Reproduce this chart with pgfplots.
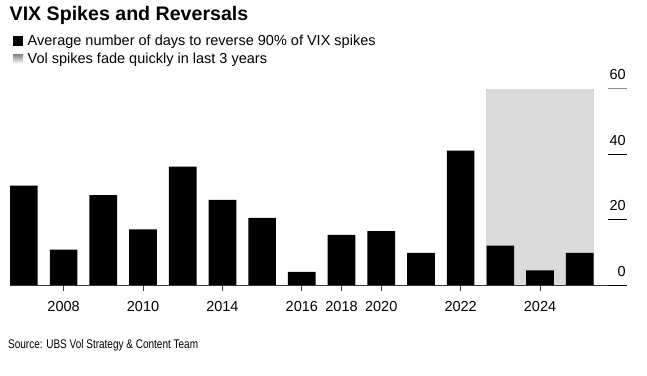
\documentclass[border=0pt]{standalone}
\usepackage{pgfplots}
\pgfplotsset{compat=1.18}
\usepackage{fontspec}
\setmainfont{Liberation Sans}
\definecolor{shade}{RGB}{218,218,218}
\definecolor{axisline}{RGB}{60,60,60}
\begin{document}
\begin{tikzpicture}[x=1pt,y=1pt]
\useasboundingbox (0,0) rectangle (647,-375);
% title and legend
\node[anchor=base west, inner sep=0pt, font=\bfseries\fontsize{19.6}{22}\selectfont] at (9.5,-20.5) {VIX Spikes and Reversals};
\fill[black] (13,-36) rectangle (23,-45.5);
\node[anchor=base west, inner sep=0pt, font=\fontsize{14.5}{16}\selectfont] at (27.5,-45.5) {Average number of days to reverse 90\% of VIX spikes};
\fill[shade] (13,-54) rectangle (23,-63.5);
\node[anchor=base west, inner sep=0pt, font=\fontsize{14.5}{16}\selectfont] at (27.5,-63.5) {Vol spikes fade quickly in last 3 years};
\node[anchor=base west, inner sep=0pt, font=\fontsize{12.5}{14}\selectfont] at (8,-348.3) {\scalebox{0.8}[1]{Source: UBS Vol Strategy \& Content Team}};
% main axis with bars
\begin{axis}[
  at={(10pt,-285pt)}, anchor=south west,
  scale only axis, width=617pt, height=196.3pt,
  xmin=-0.35, xmax=15.19, ymin=0, ymax=60,
  axis x line*=bottom, axis y line=none,
  x axis line style={draw=axisline, line width=0.9pt, -},
  xtick={1,3,5,7,8,9,11,13},
  xticklabels={2008,2010,2014,2016,2018,2020,2022,2024},
  tick align=outside, major tick length=6pt,
  xtick style={draw=axisline, line width=0.8pt},
  xticklabel style={font=\fontsize{14.5}{16}\selectfont, yshift=-6.5pt},
  /pgf/number format/assume math mode=true,
  clip=false,
]
\addplot[fill=shade, draw=none] coordinates {(11.65,0) (11.65,60) (14.35,60) (14.35,0)} -- cycle;
\addplot[ybar, bar width=27.7pt, fill=black, draw=none] coordinates {
(0,30.4) (1,10.8) (2,27.5) (3,17.0) (4,36.2) (5,26.0) (6,20.5) (7,4.0)
(8,15.3) (9,16.5) (10,9.8) (11,41.1) (12,12.0) (13,4.5) (14,9.8)};
\end{axis}
% y ticks on the right
\begin{axis}[
  at={(10pt,-285pt)}, anchor=south west,
  scale only axis, width=617pt, height=196.3pt,
  xmin=-0.35, xmax=15.19, ymin=0, ymax=60,
  axis x line=none, axis y line*=right,
  y axis line style={draw=none},
  ytick={0,20,40}, extra y ticks={60},
  extra y tick style={ytick style={draw=black!45, line width=1pt}},
  tick align=inside, major tick length=19pt,
  ytick style={draw=black, line width=0.9pt},
  yticklabel style={font=\fontsize{14.5}{16}\selectfont, anchor=south east, inner sep=0pt, xshift=-1pt, yshift=8.5pt},
  /pgf/number format/assume math mode=true,
  clip=false,
]
\addplot[draw=none] coordinates {(0,0)};
\end{axis}
\end{tikzpicture}
\end{document}
